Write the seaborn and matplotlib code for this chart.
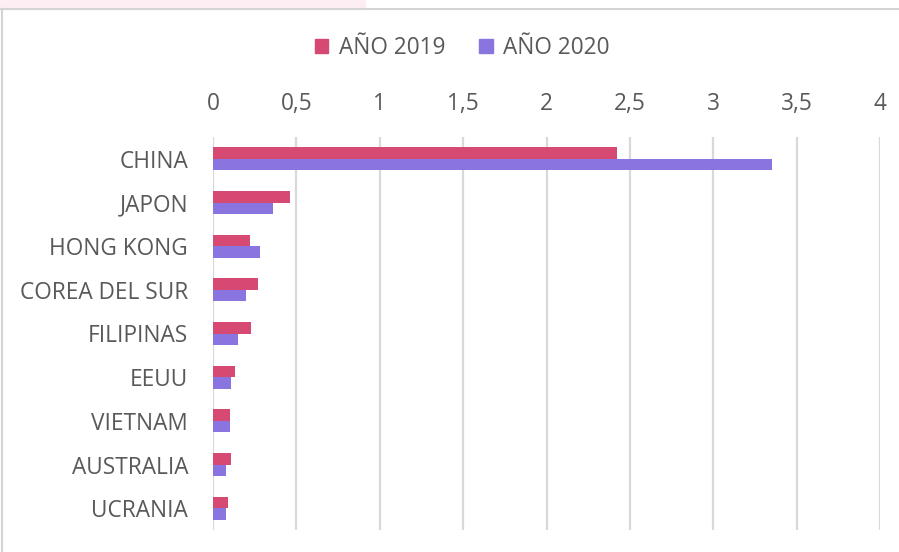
import pandas as pd
import matplotlib.pyplot as plt
import seaborn as sns
from matplotlib.patches import Rectangle
from matplotlib.lines import Line2D

# Data
countries = ['CHINA', 'JAPON', 'HONG KONG', 'COREA DEL SUR', 'FILIPINAS',
             'EEUU', 'VIETNAM', 'AUSTRALIA', 'UCRANIA']
values_2019 = [2.42, 0.46, 0.22, 0.27, 0.23, 0.13, 0.10, 0.11, 0.09]
values_2020 = [3.35, 0.36, 0.28, 0.20, 0.15, 0.11, 0.10, 0.08, 0.08]
series = ['AÑO 2019', 'AÑO 2020']
x_ticks = [0, 0.5, 1, 1.5, 2, 2.5, 3, 3.5, 4]
x_tick_labels = ['0', '0,5', '1', '1,5', '2', '2,5', '3', '3,5', '4']

colors = {'AÑO 2019': '#D54972', 'AÑO 2020': '#8A74E0'}
text_color = '#595959'
grid_color = '#D9D9D9'
fs = 16.3

df = pd.DataFrame({
    'pais': countries * 2,
    'valor': values_2019 + values_2020,
    'serie': [series[0]] * len(countries) + [series[1]] * len(countries),
})

sns.set_theme(style='white')
plt.rcParams['font.family'] = ['Open Sans', 'DejaVu Sans']

W, H = 899, 552
fig = plt.figure(figsize=(W / 100, H / 100), dpi=100)
ax = fig.add_axes([213 / W, 1 - 530 / H, (880 - 213) / W, (530 - 137) / H])

sns.barplot(data=df, y='pais', x='valor', hue='serie', order=countries,
            hue_order=series, palette=colors, orient='h', width=0.53,
            gap=0, ax=ax, legend=False, saturation=1, linewidth=0)

ax.set_xlim(0, 4)
ax.set_ylim(8.5, -0.5)
ax.xaxis.tick_top()
ax.set_xticks(x_ticks)
ax.set_xticklabels(x_tick_labels)
ax.tick_params(axis='x', length=0, pad=15, labelsize=fs, labelcolor=text_color)
ax.tick_params(axis='y', length=0, pad=18, labelsize=fs, labelcolor=text_color)
ax.set_xlabel('')
ax.set_ylabel('')
ax.grid(axis='x', color=grid_color, linewidth=1.6)
ax.set_axisbelow(True)
for s in ax.spines.values():
    s.set_visible(False)

# Legend centered above the chart
handles = [Rectangle((0, 0), 1, 1, color=colors[s]) for s in series]
fig.legend(handles, series, loc='center', bbox_to_anchor=(462 / W, 1 - 48 / H),
           ncol=2, frameon=False, fontsize=fs, labelcolor=text_color,
           handlelength=0.6, handleheight=0.6, handletextpad=0.45,
           columnspacing=1.5)

# Screenshot frame details
fig.patches.append(Rectangle((0, 1 - 9 / H), 365 / W, 9 / H,
                             transform=fig.transFigure, color='#FCEEF2', zorder=0))
fig.lines.append(Line2D([0, 1], [1 - 9 / H, 1 - 9 / H], transform=fig.transFigure,
                        color='#D4D4D4', linewidth=1.5))
fig.lines.append(Line2D([1.5 / W, 1.5 / W], [0, 1 - 9 / H], transform=fig.transFigure,
                        color='#D4D4D4', linewidth=1.5))

fig.savefig('out.png', dpi=100)
